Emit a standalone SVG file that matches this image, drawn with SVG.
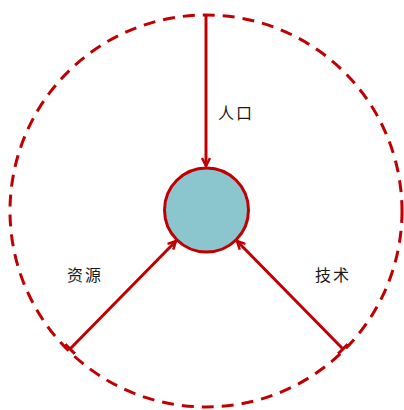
<svg xmlns="http://www.w3.org/2000/svg" width="404" height="410" viewBox="0 0 404 410">
<style>
.conn{stroke:#C00000;stroke-width:3;fill:none}
.lbl{font-family:"Noto Sans CJK SC","Noto Sans CJK JP",sans-serif;font-size:16px;fill:#1a1a1a;letter-spacing:2px}
</style>
<defs>
<marker id="arr" viewBox="0 0 10 10" refX="9" refY="5" markerWidth="10" markerHeight="10" markerUnits="userSpaceOnUse" orient="auto">
<path d="M1,1 L9,5 L1,9" fill="none" stroke="#C00000" stroke-width="2.5"/>
</marker>
<marker id="tick" viewBox="0 0 4 14" refX="2" refY="7" markerWidth="4" markerHeight="14" markerUnits="userSpaceOnUse" orient="auto">
<path d="M2,0 L2,14" stroke="#C00000" stroke-width="3"/>
</marker>
</defs>
<rect width="404" height="410" fill="#fff"/>
<g id="boundary">
<circle cx="206" cy="211" r="196" fill="none" stroke="#C00000" stroke-width="3" stroke-dasharray="12 8"/>
</g>
<g id="connectors">
<line class="conn" x1="206" y1="15" x2="206" y2="166" marker-end="url(#arr)"/>
<line class="conn" x1="70" y1="349" x2="176" y2="241" marker-start="url(#tick)" marker-end="url(#arr)"/>
<line class="conn" x1="343" y1="349" x2="237" y2="241" marker-start="url(#tick)" marker-end="url(#arr)"/>
</g>
<g id="center">
<circle cx="206.5" cy="210" r="42" fill="#8BC6CE" stroke="#C00000" stroke-width="3"/>
</g>
<g id="label-population"><text class="lbl" x="218" y="119">人口</text></g>
<g id="label-resources"><text class="lbl" x="67" y="281">资源</text></g>
<g id="label-technology"><text class="lbl" x="315" y="281">技术</text></g>
</svg>
